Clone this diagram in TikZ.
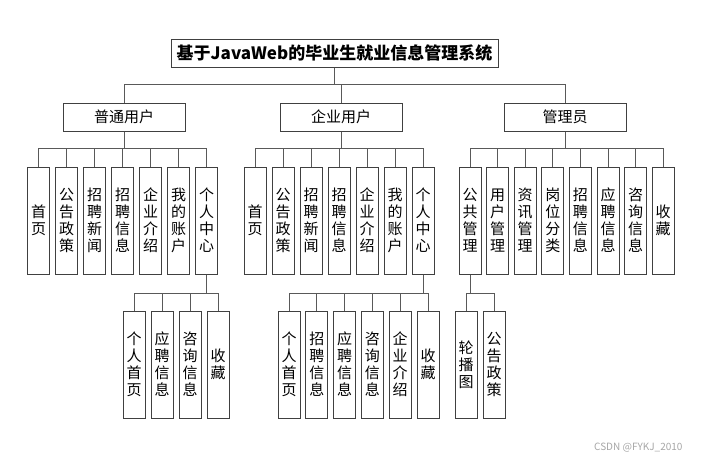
\documentclass[tikz,border=0pt]{standalone}
\usepackage{fontspec}
\setmainfont{Noto Sans CJK SC}
\usetikzlibrary{calc}

\begin{document}
\begin{tikzpicture}[x=1pt,y=-1pt,
    box/.style={draw=black!75, line width=1pt, fill=white, minimum height=28, inner sep=0pt, font=\fontsize{15}{17}\selectfont},
    leaf/.style={draw=black!75, line width=1pt, minimum width=22, minimum height=107, inner sep=0pt, align=center, font=\fontsize{15}{17}\selectfont},
    link/.style={draw=black!65, line width=1pt}]
    \useasboundingbox (0,0) rectangle (705,461);
    % title
    \node[box, minimum width=327, font=\fontsize{17}{20}\selectfont\bfseries] (root) at (334.5,53) {基于JavaWeb的毕业生就业信息管理系统};
    % roles
    \node[box, minimum width=122] (user) at (124,117) {普通用户};
    \node[box, minimum width=122] (firm) at (341,117) {企业用户};
    \node[box, minimum width=122] (admin) at (565,117) {管理员};
    \foreach \n in {user,firm,admin}
        \path[link] (root.south) -- ++(0,17) -| (\n.north);
    % user menu
    \foreach \t [count=\i] in {{首\\页},{公\\告\\政\\策},{招\\聘\\新\\闻},{招\\聘\\信\\息},{企\\业\\介\\绍},{我\\的\\账\\户},{个\\人\\中\\心}}{
        \node[leaf] (u\i) at ({38.5+28*(\i-1)},220.5) {\t};
        \path[link] (user.south) -- ++(0,17) -| (u\i.north);
    }
    % firm menu
    \foreach \t [count=\i] in {{首\\页},{公\\告\\政\\策},{招\\聘\\新\\闻},{招\\聘\\信\\息},{企\\业\\介\\绍},{我\\的\\账\\户},{个\\人\\中\\心}}{
        \node[leaf] (f\i) at ({255+28*(\i-1)},220.5) {\t};
        \path[link] (firm.south) -- ++(0,17) -| (f\i.north);
    }
    % admin menu
    \foreach \t [count=\i] in {{公\\共\\管\\理},{用\\户\\管\\理},{资\\讯\\管\\理},{岗\\位\\分\\类},{招\\聘\\信\\息},{应\\聘\\信\\息},{咨\\询\\信\\息},{收\\藏}}{
        \node[leaf] (a\i) at ({470+27.6*(\i-1)},220.5) {\t};
        \path[link] (admin.south) -- ++(0,17) -| (a\i.north);
    }
    % user center
    \foreach \t [count=\i] in {{个\\人\\首\\页},{应\\聘\\信\\息},{咨\\询\\信\\息},{收\\藏}}{
        \node[leaf] (uc\i) at ({134+28*(\i-1)},364.5) {\t};
        \path[link] (u7.south) -- ++(0,19) -| (uc\i.north);
    }
    % firm center
    \foreach \t [count=\i] in {{个\\人\\首\\页},{招\\聘\\信\\息},{应\\聘\\信\\息},{咨\\询\\信\\息},{企\\业\\介\\绍},{收\\藏}}{
        \node[leaf] (fc\i) at ({289+27.8*(\i-1)},364.5) {\t};
        \path[link] (f7.south) -- ++(0,19) -| (fc\i.north);
    }
    % public management
    \node[leaf] (ac1) at (466,364.5) {轮\\播\\图};
    \node[leaf] (ac2) at (494,364.5) {公\\告\\政\\策};
    \foreach \n in {ac1,ac2}
        \path[link] (a1.south) -- ++(0,19) -| (\n.north);
    % watermark
    \node[anchor=east, text=black!35, font=\fontsize{10}{12}\selectfont] (mark) at (686,448) {CSDN @FYKJ\_2010};
\end{tikzpicture}
\end{document}
